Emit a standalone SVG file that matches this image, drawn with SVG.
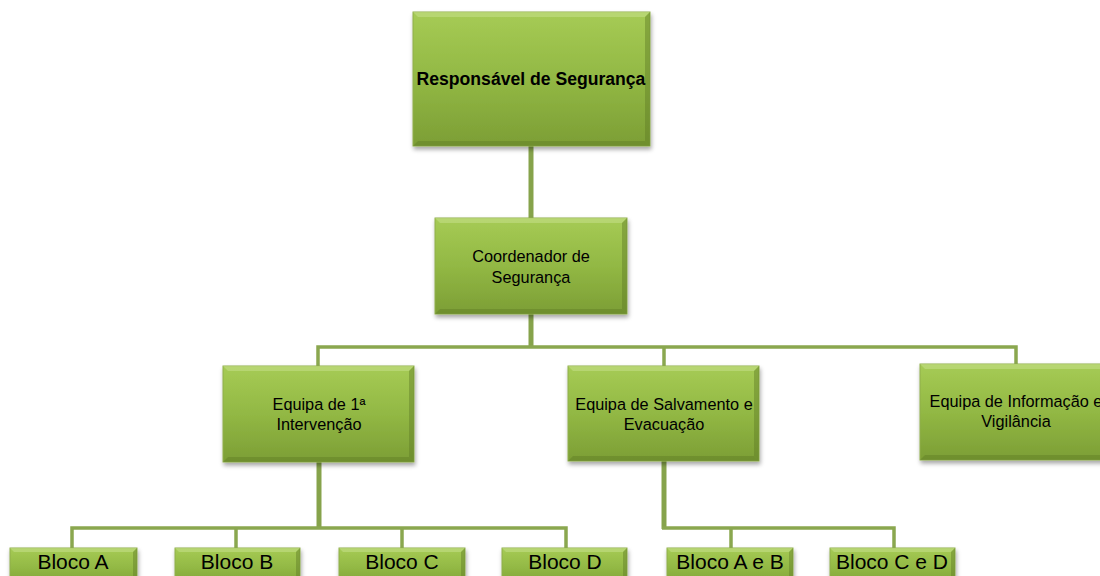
<svg xmlns="http://www.w3.org/2000/svg" width="1100" height="576" viewBox="0 0 1100 576">
<defs>
<linearGradient id="gf" x1="0" y1="0" x2="0" y2="1">
<stop offset="0" stop-color="#a6cb55"/>
<stop offset="0.5" stop-color="#92b844"/>
<stop offset="1" stop-color="#7c9e35"/>
</linearGradient>
<filter id="sh" x="-10%" y="-10%" width="130%" height="140%">
<feDropShadow dx="1" dy="3" stdDeviation="2" flood-color="#000" flood-opacity="0.35"/>
</filter>
<style>
.box{fill:url(#gf);stroke:#8fae4c;stroke-width:1;filter:url(#sh)}
.hl{fill:#c3de86;opacity:0.6}
.dk{fill:#5f7d25;opacity:0.45}
.t{font-family:"Liberation Sans",Arial,sans-serif;fill:#000;text-anchor:middle}
.s{font-size:16.3px}
.b{font-size:21px}
.c{fill:none;stroke:#8aa74f;stroke-width:3.5}
.ct{fill:none;stroke:#86a34b;stroke-width:5}
</style>
</defs>
<g id="connectors">
<path class="ct" d="M531 146 V218"/>
<path class="ct" d="M531 314 V347"/>
<path class="c" d="M318 366 V347 H1016 V364"/>
<path class="c" d="M664 347 V366"/>
<path class="ct" d="M319 462 V528"/>
<path class="c" d="M72 548 V528 H566 V548"/>
<path class="c" d="M236 528 V548"/>
<path class="c" d="M402 528 V548"/>
<path class="ct" d="M664 461 V529"/>
<path class="c" d="M662 528 H894 V548"/>
<path class="c" d="M731 528 V548"/>
</g>
<g id="n-responsavel">
<rect class="box" x="413" y="12" width="237" height="134"/>
<polygon class="hl" points="413,12 650,12 645,17 418,17"/>
<polygon class="dk" points="650,12 650,146 645,141 645,17"/>
<polygon class="dk" points="413,146 650,146 645,141 418,141"/>
<text class="t" x="531" y="85" font-size="17.6" font-weight="bold">Responsável de Segurança</text>
</g>
<g id="n-coordenador">
<rect class="box" x="435" y="218" width="192" height="96"/>
<polygon class="hl" points="435,218 627,218 622,223 440,223"/>
<polygon class="dk" points="627,218 627,314 622,309 622,223"/>
<polygon class="dk" points="435,314 627,314 622,309 440,309"/>
<text class="t s" x="531" y="262">Coordenador de</text>
<text class="t s" x="531" y="283">Segurança</text>
</g>
<g id="n-equipa1">
<rect class="box" x="223" y="366" width="191" height="96"/>
<polygon class="hl" points="223,366 414,366 409,371 228,371"/>
<polygon class="dk" points="414,366 414,462 409,457 409,371"/>
<polygon class="dk" points="223,462 414,462 409,457 228,457"/>
<text class="t s" x="319" y="410">Equipa de  1ª</text>
<text class="t s" x="319" y="430">Intervenção</text>
</g>
<g id="n-salvamento">
<rect class="box" x="568" y="366" width="191" height="95"/>
<polygon class="hl" points="568,366 759,366 754,371 573,371"/>
<polygon class="dk" points="759,366 759,461 754,456 754,371"/>
<polygon class="dk" points="568,461 759,461 754,456 573,456"/>
<text class="t s" x="664" y="410">Equipa de Salvamento e</text>
<text class="t s" x="664" y="430">Evacuação</text>
</g>
<g id="n-informacao">
<rect class="box" x="920" y="364" width="192" height="96"/>
<polygon class="hl" points="920,364 1112,364 1107,369 925,369"/>
<polygon class="dk" points="920,460 1112,460 1107,455 925,455"/>
<text class="t s" x="1016" y="407">Equipa de Informação e</text>
<text class="t s" x="1016" y="427">Vigilância</text>
</g>
<g id="n-blocoA">
<rect class="box" x="10" y="548" width="127" height="40"/>
<polygon class="hl" points="10,548 137,548 133,552 14,552"/>
<polygon class="dk" points="137,548 137,588 133,584 133,552"/>
<text class="t b" x="73" y="569">Bloco A</text>
</g>
<g id="n-blocoB">
<rect class="box" x="175" y="548" width="125" height="40"/>
<polygon class="hl" points="175,548 300,548 296,552 179,552"/>
<polygon class="dk" points="300,548 300,588 296,584 296,552"/>
<text class="t b" x="237" y="569">Bloco B</text>
</g>
<g id="n-blocoC">
<rect class="box" x="339" y="548" width="126" height="40"/>
<polygon class="hl" points="339,548 465,548 461,552 343,552"/>
<polygon class="dk" points="465,548 465,588 461,584 461,552"/>
<text class="t b" x="402" y="569">Bloco C</text>
</g>
<g id="n-blocoD">
<rect class="box" x="502" y="548" width="125" height="40"/>
<polygon class="hl" points="502,548 627,548 623,552 506,552"/>
<polygon class="dk" points="627,548 627,588 623,584 623,552"/>
<text class="t b" x="565" y="569">Bloco D</text>
</g>
<g id="n-blocoAB">
<rect class="box" x="667" y="548" width="126" height="40"/>
<polygon class="hl" points="667,548 793,548 789,552 671,552"/>
<polygon class="dk" points="793,548 793,588 789,584 789,552"/>
<text class="t b" x="730" y="569">Bloco A e B</text>
</g>
<g id="n-blocoCD">
<rect class="box" x="830" y="548" width="125" height="40"/>
<polygon class="hl" points="830,548 955,548 951,552 834,552"/>
<polygon class="dk" points="955,548 955,588 951,584 951,552"/>
<text class="t b" x="892" y="569">Bloco C e D</text>
</g>
</svg>
